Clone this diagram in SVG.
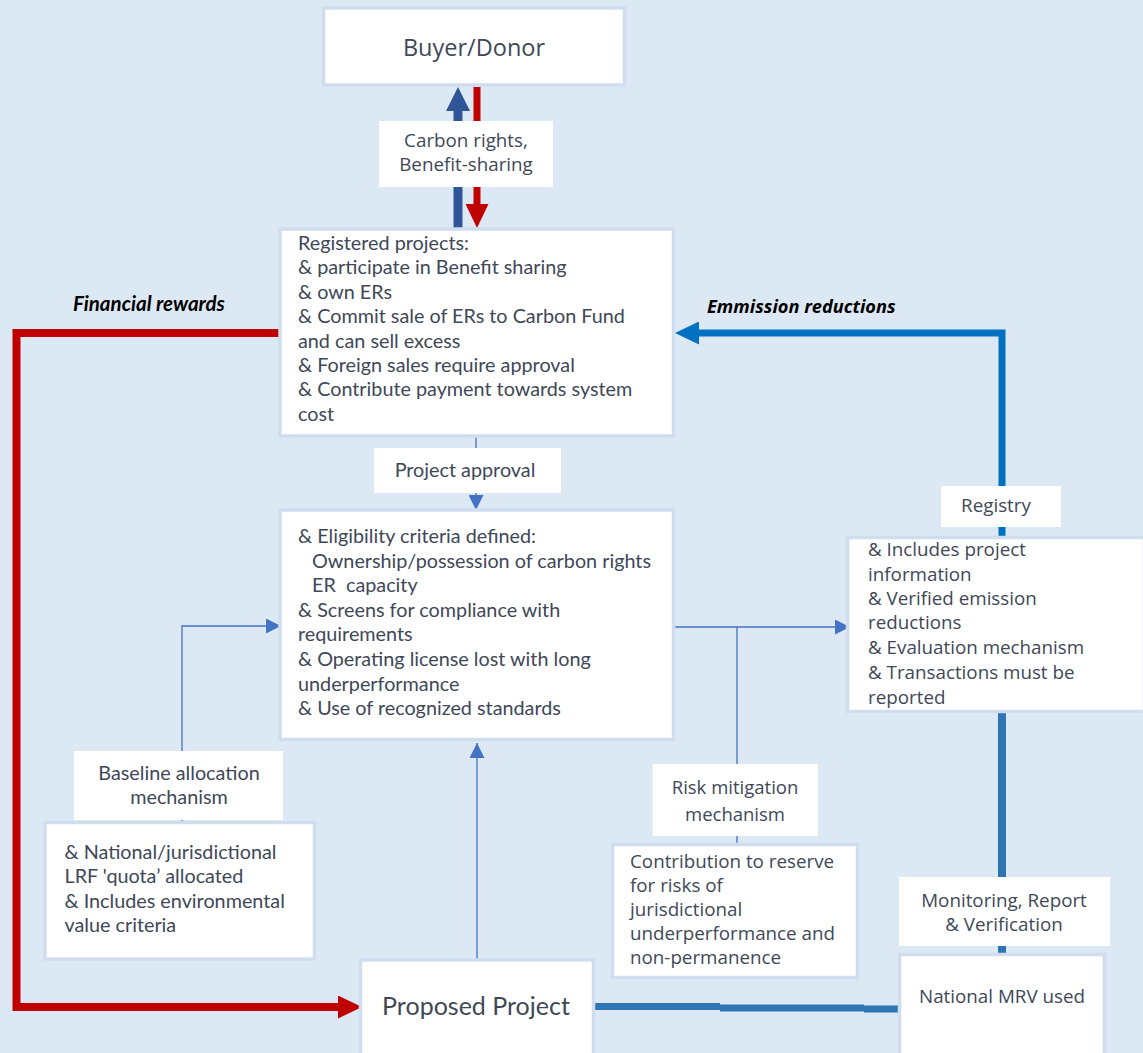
<svg xmlns="http://www.w3.org/2000/svg" width="1143" height="1053" viewBox="0 0 1143 1053">
<style>
.bg{fill:#dde8f5}
.box{fill:#ffffff;stroke:#d0ddef;stroke-width:3.5}
.lbl{fill:#ffffff}
.cal{font-family:Lato,"Liberation Sans",sans-serif;fill:#404858;font-size:19.8px}
.seg{font-family:"Open Sans","Noto Sans","Liberation Sans",sans-serif;fill:#404858;font-size:18.8px}
.em{font-weight:bold;font-style:italic;fill:#000000}
.thin{fill:none;stroke:#4472c4;stroke-width:1.3}
.pre{white-space:pre}
</style>
<defs>
<marker id="arrThin" markerUnits="userSpaceOnUse" viewBox="0 0 15 15" refX="15" refY="7.5" markerWidth="15" markerHeight="15" orient="auto">
<path d="M0,0 L15,7.5 L0,15 z" fill="#4472c4"/>
</marker>
<marker id="arrRed" markerUnits="userSpaceOnUse" viewBox="0 0 24 23" refX="0" refY="11.5" markerWidth="24" markerHeight="23" orient="auto">
<path d="M0,0 L24,11.5 L0,23 z" fill="#c00000"/>
</marker>
<marker id="arrNavy" markerUnits="userSpaceOnUse" viewBox="0 0 24 24" refX="0" refY="12" markerWidth="24" markerHeight="24" orient="auto">
<path d="M0,0 L24,12 L0,24 z" fill="#2f5597"/>
</marker>
<marker id="arrBlue" markerUnits="userSpaceOnUse" viewBox="0 0 24 23" refX="0" refY="11.5" markerWidth="24" markerHeight="23" orient="auto">
<path d="M0,0 L24,11.5 L0,23 z" fill="#0070c0"/>
</marker>
</defs>
<rect class="bg" x="0" y="0" width="1143" height="1053"/>

<g id="connectors">
<path d="M458,228 V111" fill="none" stroke="#2f5597" stroke-width="9" marker-end="url(#arrNavy)"/>
<path d="M477,87 V204" fill="none" stroke="#c00000" stroke-width="7" marker-end="url(#arrRed)"/>
<path d="M282,333 H16.5 V1007 H338" fill="none" stroke="#c00000" stroke-width="8" marker-end="url(#arrRed)"/>
<path d="M1002,486 V333 H699" fill="none" stroke="#0070c0" stroke-width="7" marker-end="url(#arrBlue)"/>
<path d="M1002,527 V539" fill="none" stroke="#0070c0" stroke-width="7"/>
<path d="M1002,713 V877 M1002,946 V955" fill="none" stroke="#2e75b6" stroke-width="8"/>
<path d="M595,1006.5 H720 M720,1008 H864 M864,1009 H899" fill="none" stroke="#2e75b6" stroke-width="7"/>
<path class="thin" d="M476,437 V448"/>
<path class="thin" d="M476,493 V510" marker-end="url(#arrThin)"/>
<path class="thin" d="M477,960 V743" marker-end="url(#arrThin)"/>
<path class="thin" d="M182,751 V626 H281" marker-end="url(#arrThin)"/>
<path class="thin" d="M675,627 H850" marker-end="url(#arrThin)"/>
<path class="thin" d="M737,627 V764 M737,836 V846"/>
<path class="thin" d="M182,820 V824"/>
</g>

<g id="buyer">
<rect class="box" x="323.5" y="8" width="301" height="77"/>
<text class="seg" x="474" y="56" style="font-size:23.5px" text-anchor="middle">Buyer/Donor</text>
</g>

<g id="label-carbon">
<rect class="lbl" x="379" y="121" width="174" height="66"/>
<text class="seg" x="466" y="147" text-anchor="middle">Carbon rights,</text>
<text class="seg" x="466" y="171" text-anchor="middle">Benefit-sharing</text>
</g>

<g id="label-financial">
<text class="cal em" x="73" y="311" style="font-size:20.5px">Financial rewards</text>
</g>

<g id="label-emission">
<text class="seg em" x="707" y="313" style="font-size:18.2px">Emmission reductions</text>
</g>

<g id="registered">
<rect class="box" x="280" y="229" width="393.5" height="207"/>
<text class="cal">
<tspan x="298" y="250">Registered projects:</tspan>
<tspan x="298" y="274.4">&amp; participate in Benefit sharing</tspan>
<tspan x="298" y="298.8">&amp; own ERs</tspan>
<tspan x="298" y="323.2">&amp; Commit sale of ERs to Carbon Fund</tspan>
<tspan x="298" y="347.6">and can sell excess</tspan>
<tspan x="298" y="372">&amp; Foreign sales require approval</tspan>
<tspan x="298" y="396.4">&amp; Contribute payment towards system</tspan>
<tspan x="298" y="420.8">cost</tspan>
</text>
</g>

<g id="label-approval">
<rect class="lbl" x="374" y="448" width="187" height="45"/>
<text class="cal" x="465" y="477" text-anchor="middle">Project approval</text>
</g>

<g id="eligibility">
<rect class="box" x="280" y="510" width="393.5" height="229.5"/>
<text class="cal pre">
<tspan x="298" y="543">&amp; Eligibility criteria defined:</tspan>
<tspan x="312" y="567.6">Ownership/possession of carbon rights</tspan>
<tspan x="312" y="592.2">ER  capacity</tspan>
<tspan x="298" y="616.8">&amp; Screens for compliance with</tspan>
<tspan x="298" y="641.4">requirements</tspan>
<tspan x="298" y="666">&amp; Operating license lost with long</tspan>
<tspan x="298" y="690.6">underperformance</tspan>
<tspan x="298" y="715.2">&amp; Use of recognized standards</tspan>
</text>
</g>

<g id="label-registry">
<rect class="lbl" x="941" y="486" width="120" height="41"/>
<text class="seg" x="996" y="512" text-anchor="middle">Registry</text>
</g>

<g id="registry">
<rect class="box" x="847.5" y="537.5" width="297" height="174"/>
<text class="seg">
<tspan x="868" y="556">&amp; Includes project</tspan>
<tspan x="868" y="581">information</tspan>
<tspan x="868" y="605">&amp; Verified emission</tspan>
<tspan x="868" y="629">reductions</tspan>
<tspan x="868" y="654">&amp; Evaluation mechanism</tspan>
<tspan x="868" y="679">&amp; Transactions must be</tspan>
<tspan x="868" y="704">reported</tspan>
</text>
</g>

<g id="label-baseline">
<rect class="lbl" x="74" y="751" width="209" height="69"/>
<text class="cal" x="179" y="780" text-anchor="middle">Baseline allocation</text>
<text class="cal" x="179" y="804" text-anchor="middle">mechanism</text>
</g>

<g id="national">
<rect class="box" x="45" y="822.5" width="269.5" height="136.5"/>
<text class="cal">
<tspan x="64.5" y="859">&amp; National/jurisdictional</tspan>
<tspan x="64.5" y="883">LRF 'quota’ allocated</tspan>
<tspan x="64.5" y="908">&amp; Includes environmental</tspan>
<tspan x="64.5" y="932">value criteria</tspan>
</text>
</g>

<g id="label-risk">
<rect class="lbl" x="652.5" y="764" width="165.5" height="72"/>
<text class="seg" x="735" y="794" style="font-size:18.5px" text-anchor="middle">Risk mitigation</text>
<text class="seg" x="735" y="821" style="font-size:18.5px" text-anchor="middle">mechanism</text>
</g>

<g id="contribution">
<rect class="box" x="612.5" y="844.5" width="245" height="133"/>
<text class="seg">
<tspan x="630" y="868">Contribution to reserve</tspan>
<tspan x="630" y="892">for risks of</tspan>
<tspan x="630" y="916">jurisdictional</tspan>
<tspan x="630" y="940">underperformance and</tspan>
<tspan x="630" y="964">non-permanence</tspan>
</text>
</g>

<g id="label-mrv">
<rect class="lbl" x="899" y="877" width="211" height="69"/>
<text class="seg" x="1004" y="907" text-anchor="middle">Monitoring, Report</text>
<text class="seg" x="1004" y="931" text-anchor="middle">&amp; Verification</text>
</g>

<g id="national-mrv">
<rect class="box" x="899.5" y="954.5" width="205" height="110"/>
<text class="seg" x="1002" y="1003" text-anchor="middle">National MRV used</text>
</g>

<g id="proposed">
<rect class="box" x="360.5" y="960" width="233" height="110"/>
<text class="cal" x="476" y="1015" style="font-size:25px" text-anchor="middle">Proposed Project</text>
</g>
</svg>
